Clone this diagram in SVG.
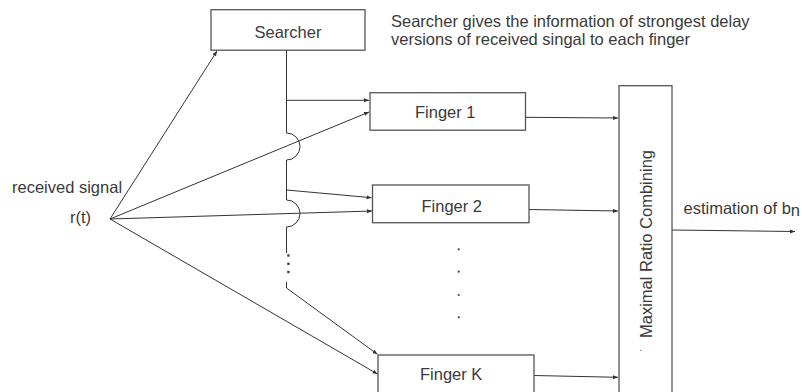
<svg xmlns="http://www.w3.org/2000/svg" width="802" height="392" viewBox="0 0 802 392">
<defs>
<marker id="ah" markerUnits="userSpaceOnUse" markerWidth="6" markerHeight="5" refX="5" refY="2" orient="auto">
<path d="M0,0 L5,2 L0,4 z" fill="#333"/>
</marker>
<style>
text{font-family:"Liberation Sans",Arial,sans-serif;font-size:16.5px;fill:#3a3a3a}
.box{fill:#fff;stroke:#555;stroke-width:1.3}
.ln{fill:none;stroke:#333;stroke-width:1}
.arr{fill:none;stroke:#333;stroke-width:1;marker-end:url(#ah)}
.dot{fill:#444}
</style>
</defs>
<rect width="802" height="392" fill="#fff"/>

<g id="connectors">
<line class="arr" x1="110" y1="219" x2="217" y2="51"/>
<line class="arr" x1="110" y1="219" x2="369" y2="112"/>
<line class="arr" x1="110" y1="219" x2="372" y2="211"/>
<line class="arr" x1="110" y1="219" x2="377.5" y2="374"/>
<path class="ln" d="M286.5,50 V133 A13.5,13.5 0 0 1 286.5,160 V200 A13.5,13.5 0 0 1 286.5,227 V253"/>
<rect class="dot" x="287.2" y="254.3" width="2.4" height="2.4"/>
<rect class="dot" x="287.2" y="262.6" width="2.4" height="2.4"/>
<rect class="dot" x="287.2" y="270.8" width="2.4" height="2.4"/>
<path class="arr" d="M286.5,282 V288 L377.5,354.3"/>
<line class="arr" x1="286.5" y1="100.3" x2="369" y2="100.3"/>
<line class="arr" x1="286.5" y1="190" x2="371.5" y2="197.7"/>
<line class="arr" x1="525" y1="117.3" x2="618" y2="118"/>
<line class="arr" x1="529" y1="209.5" x2="618" y2="211"/>
<line class="arr" x1="534" y1="375.5" x2="618" y2="377.3"/>
<line class="arr" x1="672" y1="230" x2="795" y2="231.5"/>
</g>

<g id="searcher">
<rect class="box" x="211" y="9.7" width="154" height="40.5"/>
<text x="288" y="37.5" text-anchor="middle">Searcher</text>
</g>

<g id="finger1">
<rect class="box" x="370" y="92.7" width="155.5" height="37.5"/>
<text x="415" y="118">Finger 1</text>
</g>

<g id="finger2">
<rect class="box" x="372.5" y="185" width="156.5" height="37.7"/>
<text x="421.5" y="211.5">Finger 2</text>
</g>

<g id="fingerK">
<rect class="box" x="378" y="355" width="156" height="45"/>
<text x="420" y="380">Finger K</text>
</g>

<g id="mrc">
<rect class="box" x="619" y="85.7" width="53" height="320"/>
<text transform="translate(652,244) rotate(-90)" text-anchor="middle">Maximal Ratio Combining</text>
<text x="639.5" y="350.5" style="font-size:9px">.</text>
</g>

<g id="ellipsis">
<circle class="dot" cx="458.7" cy="249.3" r="1.1"/>
<circle class="dot" cx="458.7" cy="271.7" r="1.1"/>
<circle class="dot" cx="458.7" cy="295" r="1.1"/>
<circle class="dot" cx="458.7" cy="317.3" r="1.1"/>
</g>

<g id="labels">
<text x="391" y="26.5">Searcher gives the information of strongest delay</text>
<text x="391" y="44.5">versions of received singal to each finger</text>
<text x="12" y="192.5">received signal</text>
<text x="70" y="223">r(t)</text>
<text x="683.5" y="214">estimation of b<tspan dy="1.8">n</tspan></text>
</g>
</svg>
